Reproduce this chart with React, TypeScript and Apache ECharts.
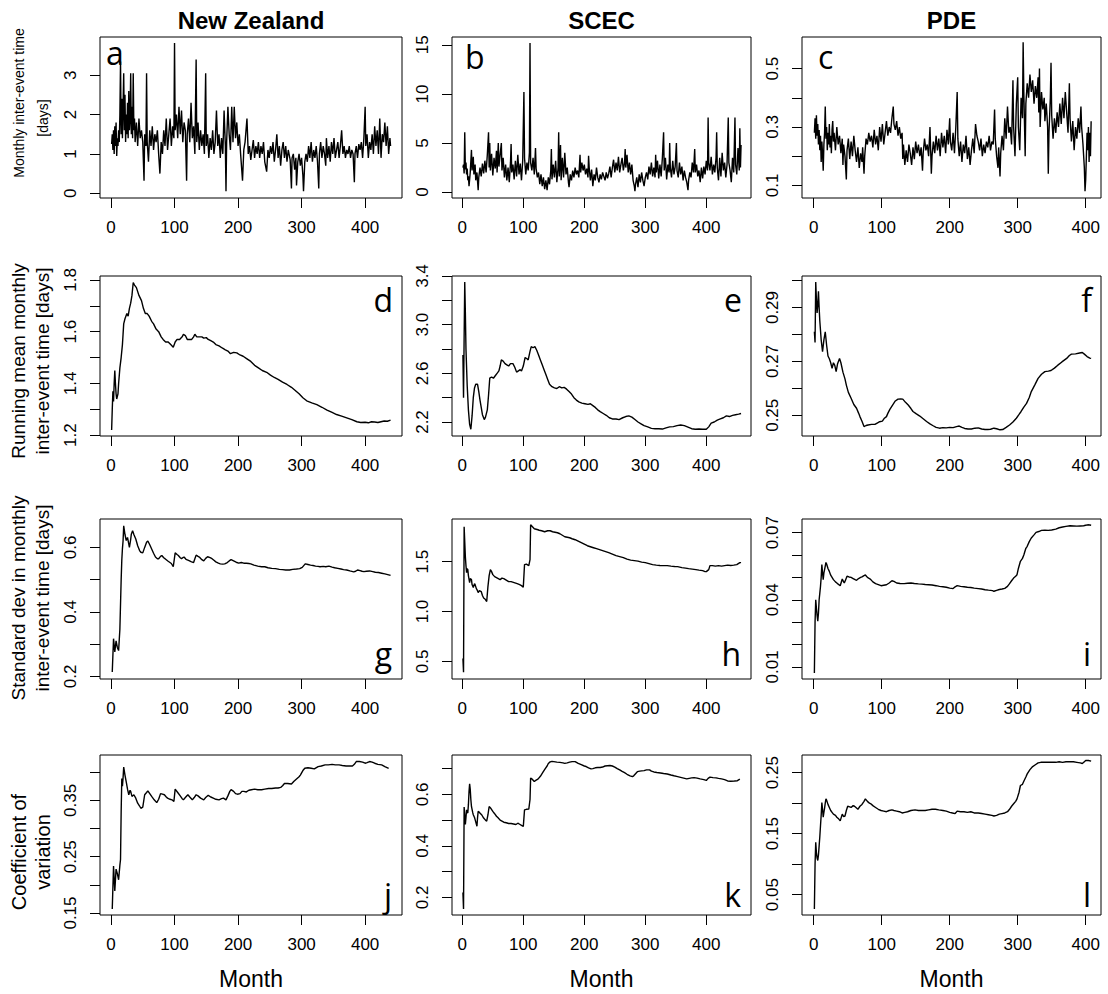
import React, { useEffect, useRef } from "react";
import * as echarts from "echarts";

// ---------- DATA (month, value) ----------
const NZ_MONTHLY: [number, number][] = [[1,1.25],[2,1.5],[3,1.1],[4,1.6],[5,1.0],[6,1.7],[7,1.2],[8,1.8],[9,0.95],[10,1.4],[11,1.2],[12,1.6],[13,1.3],[14,2.0],[15,3.35],[16,1.5],[17,2.4],[18,1.4],[19,2.2],[20,3.05],[21,1.6],[22,2.5],[23,1.3],[24,2.0],[25,1.5],[26,2.3],[27,1.4],[28,2.6],[29,1.6],[30,1.9],[31,3.05],[32,1.5],[33,2.2],[34,1.4],[35,3.05],[36,1.6],[37,1.9],[38,1.3],[40,1.8],[42,1.2],[44,1.9],[46,1.4],[48,1.6],[50,1.3],[52,0.32],[53,1.5],[55,1.2],[56,3.05],[57,1.3],[59,0.8],[61,1.6],[63,1.2],[65,1.7],[67,1.1],[69,1.5],[71,1.3],[73,1.6],[75,1.0],[77,0.5],[79,1.3],[81,1.0],[83,1.6],[85,1.2],[87,1.9],[89,1.1],[91,1.5],[93,1.9],[95,1.2],[97,1.7],[99,1.4],[100,3.82],[101,1.6],[103,2.0],[105,1.4],[107,2.2],[109,1.5],[111,2.1],[113,1.3],[115,1.8],[117,1.6],[119,0.32],[120,1.5],[122,1.9],[124,1.3],[126,2.3],[128,1.4],[130,1.7],[132,1.0],[134,3.4],[135,1.3],[137,1.8],[139,1.1],[141,1.6],[143,1.2],[145,1.5],[147,1.0],[149,3.05],[150,1.2],[152,1.5],[154,0.9],[156,1.4],[158,1.1],[160,1.6],[162,1.0],[164,1.3],[166,2.1],[168,1.2],[170,1.5],[172,0.9],[174,1.4],[176,1.0],[178,2.1],[180,1.2],[181,0.05],[182,1.3],[184,2.2],[186,1.5],[188,1.1],[190,2.2],[192,1.3],[194,2.2],[196,1.4],[198,1.8],[200,1.2],[202,1.5],[204,1.0],[207,0.32],[209,1.1],[211,1.3],[214,1.9],[216,1.0],[218,1.2],[220,0.85],[222,1.1],[224,1.35],[226,0.9],[228,1.2],[230,1.0],[232,1.3],[234,0.9],[236,1.2],[238,1.0],[240,1.3],[242,0.8],[245,0.55],[247,1.1],[249,0.9],[251,1.2],[253,1.0],[255,1.3],[257,0.8],[259,1.1],[261,1.5],[263,0.9],[265,1.2],[267,0.7],[269,1.1],[271,1.3],[273,0.9],[275,1.2],[277,0.8],[279,1.1],[282,0.85],[284,0.12],[285,0.9],[287,1.0],[289,0.6],[291,0.9],[292,0.2],[294,0.8],[296,1.0],[298,0.7],[300,0.9],[302,0.45],[303,0.05],[305,0.8],[307,1.0],[309,0.8],[311,1.2],[313,0.9],[315,1.3],[317,0.8],[319,1.1],[321,0.9],[323,1.2],[325,0.8],[327,0.12],[328,1.0],[330,1.3],[332,0.9],[334,1.2],[336,1.0],[338,0.7],[339,1.4],[341,0.9],[343,1.2],[345,0.8],[347,1.3],[349,1.0],[351,1.4],[353,0.9],[355,1.1],[357,1.3],[359,0.9],[361,1.2],[363,1.6],[365,1.0],[367,1.2],[369,0.9],[371,1.1],[373,1.0],[375,1.2],[377,0.9],[379,1.1],[381,1.0],[383,0.28],[384,1.0],[386,1.2],[388,0.9],[390,1.25],[392,1.1],[394,1.3],[396,0.9],[398,1.4],[400,2.2],[401,1.2],[403,1.5],[405,0.9],[407,1.3],[409,1.1],[411,1.5],[413,1.0],[415,1.7],[417,1.2],[419,1.6],[421,1.0],[423,1.9],[425,0.9],[427,1.5],[429,1.3],[431,1.8],[433,1.2],[435,1.7],[437,1.0],[439,1.4],[440,1.2]];

const SCEC_MONTHLY: [number, number][] = [[1,2.5],[2,2.8],[3,1.9],[4,6.1],[5,2.3],[6,3.0],[7,1.8],[8,2.4],[9,1.2],[10,1.6],[11,0.6],[12,1.3],[13,2.0],[15,4.3],[16,2.2],[18,3.6],[19,1.8],[21,2.8],[22,1.2],[24,2.0],[26,0.2],[27,1.5],[29,2.5],[31,1.6],[33,2.9],[35,1.9],[37,3.2],[39,2.0],[41,3.8],[43,6.1],[44,2.5],[45,5.0],[46,2.2],[48,3.9],[50,1.7],[52,3.5],[54,2.4],[56,4.2],[57,2.0],[59,5.0],[60,2.6],[62,3.8],[64,5.0],[65,2.2],[67,3.5],[69,1.5],[71,2.8],[73,1.2],[75,2.5],[77,1.0],[79,3.0],[80,4.9],[81,2.0],[83,2.8],[85,1.3],[87,3.2],[89,1.6],[91,3.8],[93,1.8],[95,2.9],[97,1.2],[99,3.2],[101,10.2],[102,3.5],[104,1.8],[106,3.0],[108,2.2],[110,4.0],[111,15.2],[112,3.0],[114,2.2],[116,3.5],[118,1.8],[120,4.5],[121,2.4],[123,1.5],[125,2.0],[127,0.8],[129,1.8],[131,0.6],[133,1.5],[135,0.3],[137,1.2],[139,0.2],[141,1.5],[143,0.8],[145,2.2],[146,4.4],[147,1.3],[149,2.8],[151,1.5],[153,3.2],[155,1.0],[157,2.5],[158,6.1],[159,1.6],[161,4.8],[162,1.2],[164,3.5],[166,1.5],[168,4.0],[170,1.8],[172,2.5],[174,1.0],[175,0.5],[177,1.8],[179,1.2],[181,2.2],[183,1.5],[185,2.5],[187,1.8],[189,2.2],[191,1.5],[193,3.8],[194,2.0],[196,3.0],[198,2.2],[200,2.8],[202,1.8],[204,2.4],[206,1.5],[207,3.7],[208,2.5],[210,1.2],[212,2.3],[214,0.6],[216,1.8],[218,1.2],[220,2.5],[222,1.5],[224,1.0],[226,1.8],[228,1.3],[230,2.0],[232,1.6],[234,1.2],[236,2.0],[238,1.4],[240,1.9],[242,2.6],[244,1.5],[246,2.5],[248,3.3],[250,2.0],[252,3.0],[254,2.2],[256,3.6],[258,2.0],[260,2.8],[262,3.5],[264,2.2],[266,3.0],[267,4.4],[268,2.5],[270,3.8],[272,2.0],[274,3.0],[276,1.8],[278,2.8],[280,1.2],[282,0.6],[283,0.1],[284,0.8],[286,1.5],[288,0.5],[290,1.8],[292,1.0],[294,2.0],[296,1.2],[298,0.6],[300,1.5],[302,2.0],[304,1.3],[306,2.6],[308,1.8],[310,3.0],[312,1.6],[314,2.5],[316,1.5],[317,3.8],[318,2.0],[320,3.2],[322,1.4],[324,2.8],[326,1.6],[328,3.5],[330,6.1],[331,2.2],[333,3.5],[335,1.3],[337,2.8],[339,2.0],[340,5.0],[341,2.5],[343,1.5],[345,3.2],[347,1.8],[349,2.6],[351,5.0],[352,2.2],[354,1.5],[356,3.0],[358,1.8],[360,2.6],[362,1.2],[364,2.2],[366,1.5],[368,1.0],[370,0.2],[371,1.2],[373,2.0],[375,1.5],[377,3.0],[379,2.0],[381,4.4],[382,2.0],[384,2.8],[386,1.6],[388,2.2],[390,1.0],[392,2.5],[394,1.4],[396,2.6],[398,1.8],[400,3.2],[402,2.2],[403,7.6],[404,3.0],[406,2.2],[408,3.6],[410,1.8],[412,2.8],[414,2.0],[416,3.5],[417,6.1],[418,2.5],[420,1.2],[422,3.5],[424,1.6],[426,4.0],[428,2.2],[430,3.0],[432,1.5],[434,2.8],[436,7.6],[437,3.0],[439,2.2],[441,1.0],[443,3.5],[445,2.0],[447,7.6],[448,2.8],[450,1.8],[452,4.5],[454,2.2],[455,6.5],[456,2.5],[457,4.8]];

const PDE_MONTHLY: [number, number][] = [[1,0.28],[2,0.33],[3,0.26],[4,0.34],[5,0.27],[6,0.31],[7,0.24],[8,0.29],[9,0.22],[10,0.27],[11,0.18],[12,0.25],[13,0.21],[14,0.15],[15,0.24],[16,0.28],[17,0.37],[18,0.26],[19,0.30],[20,0.22],[21,0.28],[22,0.24],[23,0.31],[24,0.23],[25,0.27],[26,0.21],[27,0.29],[28,0.32],[29,0.25],[30,0.28],[32,0.22],[34,0.30],[36,0.24],[38,0.27],[40,0.21],[42,0.26],[43,0.17],[44,0.24],[46,0.20],[48,0.12],[49,0.22],[51,0.26],[53,0.19],[55,0.25],[57,0.20],[59,0.27],[61,0.22],[63,0.18],[65,0.23],[67,0.16],[69,0.21],[71,0.18],[72,0.23],[74,0.14],[75,0.20],[77,0.26],[79,0.24],[81,0.28],[83,0.25],[85,0.27],[87,0.23],[89,0.29],[91,0.24],[93,0.27],[95,0.22],[97,0.30],[99,0.25],[101,0.31],[103,0.24],[105,0.28],[107,0.32],[109,0.27],[111,0.30],[113,0.28],[115,0.33],[117,0.37],[118,0.31],[120,0.29],[122,0.32],[124,0.27],[126,0.30],[128,0.26],[130,0.28],[131,0.19],[132,0.24],[134,0.17],[136,0.22],[138,0.18],[140,0.24],[142,0.21],[144,0.17],[146,0.23],[148,0.19],[150,0.25],[152,0.21],[154,0.24],[156,0.20],[158,0.23],[160,0.15],[161,0.21],[163,0.26],[165,0.22],[167,0.24],[169,0.20],[171,0.30],[172,0.22],[173,0.14],[174,0.20],[176,0.25],[178,0.21],[180,0.27],[182,0.22],[184,0.26],[186,0.20],[188,0.28],[190,0.23],[192,0.27],[194,0.21],[196,0.29],[198,0.24],[200,0.33],[201,0.25],[203,0.22],[205,0.28],[207,0.21],[209,0.30],[211,0.42],[212,0.26],[214,0.20],[216,0.25],[218,0.18],[220,0.24],[222,0.21],[224,0.27],[226,0.19],[228,0.23],[230,0.17],[232,0.22],[234,0.26],[236,0.21],[238,0.31],[240,0.27],[242,0.25],[244,0.22],[246,0.26],[248,0.20],[250,0.24],[252,0.21],[254,0.25],[256,0.23],[258,0.27],[260,0.22],[262,0.25],[264,0.24],[266,0.36],[267,0.26],[269,0.20],[271,0.16],[272,0.23],[274,0.13],[275,0.21],[277,0.27],[279,0.22],[281,0.33],[283,0.26],[285,0.37],[287,0.28],[289,0.30],[291,0.24],[293,0.46],[294,0.30],[296,0.20],[298,0.38],[300,0.47],[301,0.30],[303,0.22],[305,0.40],[307,0.33],[308,0.59],[309,0.42],[311,0.20],[312,0.38],[314,0.45],[316,0.40],[318,0.48],[320,0.42],[322,0.46],[324,0.38],[326,0.44],[328,0.40],[330,0.47],[331,0.35],[332,0.50],[333,0.30],[335,0.42],[337,0.36],[339,0.40],[340,0.32],[342,0.38],[344,0.30],[345,0.14],[346,0.28],[348,0.40],[349,0.52],[350,0.34],[352,0.26],[354,0.33],[356,0.28],[358,0.35],[360,0.30],[362,0.38],[364,0.31],[366,0.40],[368,0.33],[370,0.42],[372,0.35],[374,0.28],[376,0.45],[377,0.33],[379,0.25],[381,0.32],[383,0.22],[385,0.30],[387,0.26],[389,0.33],[391,0.28],[393,0.37],[394,0.30],[396,0.24],[398,0.16],[399,0.08],[400,0.12],[401,0.20],[402,0.28],[403,0.22],[404,0.30],[405,0.18],[406,0.28],[407,0.20],[408,0.32]];

const NZ_MEAN: [number, number][] = [[1,1.22],[2,1.30],[3,1.37],[4,1.33],[5,1.40],[6,1.45],[7,1.40],[8,1.36],[9,1.34],[10,1.34],[11,1.36],[12,1.40],[14,1.46],[16,1.50],[18,1.55],[20,1.63],[22,1.65],[25,1.67],[27,1.66],[29,1.69],[31,1.71],[33,1.74],[35,1.79],[37,1.78],[40,1.77],[44,1.74],[48,1.72],[51,1.69],[54,1.67],[57,1.67],[60,1.66],[64,1.64],[67,1.63],[71,1.61],[75,1.60],[79,1.58],[82,1.57],[86,1.56],[90,1.56],[94,1.55],[98,1.54],[101,1.56],[104,1.57],[108,1.57],[112,1.58],[114,1.59],[117,1.585],[120,1.57],[123,1.57],[127,1.57],[130,1.58],[132,1.59],[135,1.58],[139,1.58],[143,1.58],[146,1.575],[150,1.577],[153,1.57],[157,1.565],[161,1.56],[165,1.55],[170,1.545],[175,1.537],[180,1.53],[184,1.525],[188,1.515],[193,1.52],[198,1.518],[203,1.51],[208,1.505],[214,1.495],[220,1.485],[226,1.47],[232,1.46],[238,1.45],[245,1.443],[251,1.432],[257,1.423],[263,1.416],[270,1.405],[277,1.396],[284,1.385],[290,1.373],[296,1.36],[302,1.345],[308,1.333],[316,1.325],[324,1.318],[332,1.308],[340,1.297],[348,1.288],[355,1.28],[363,1.274],[371,1.267],[379,1.26],[387,1.252],[393,1.249],[400,1.25],[405,1.248],[410,1.252],[415,1.251],[420,1.249],[425,1.252],[430,1.255],[435,1.254],[440,1.258]];

const SCEC_MEAN: [number, number][] = [[1,2.75],[2,2.40],[3,2.9],[4,3.35],[5,3.1],[6,2.8],[8,2.5],[10,2.3],[12,2.18],[14,2.14],[16,2.25],[18,2.40],[20,2.48],[22,2.51],[25,2.51],[27,2.45],[29,2.38],[31,2.32],[33,2.26],[36,2.22],[38,2.24],[41,2.3],[43,2.42],[45,2.56],[48,2.57],[51,2.56],[54,2.58],[57,2.60],[60,2.62],[62,2.66],[64,2.71],[67,2.70],[70,2.68],[73,2.67],[76,2.66],[79,2.68],[83,2.68],[86,2.65],[89,2.61],[92,2.62],[95,2.63],[97,2.62],[100,2.66],[103,2.73],[106,2.72],[108,2.71],[111,2.78],[113,2.82],[116,2.81],[119,2.82],[122,2.79],[125,2.75],[128,2.71],[131,2.67],[134,2.63],[137,2.59],[140,2.55],[143,2.51],[147,2.49],[151,2.48],[155,2.475],[159,2.49],[163,2.48],[167,2.485],[171,2.47],[175,2.45],[179,2.43],[183,2.40],[187,2.38],[191,2.365],[196,2.355],[201,2.35],[206,2.345],[210,2.35],[214,2.335],[218,2.32],[222,2.30],[226,2.285],[231,2.27],[236,2.255],[241,2.235],[246,2.225],[252,2.225],[257,2.22],[263,2.235],[268,2.245],[273,2.25],[278,2.24],[283,2.22],[288,2.2],[293,2.185],[298,2.17],[304,2.16],[310,2.148],[316,2.145],[322,2.145],[328,2.142],[334,2.152],[340,2.16],[346,2.162],[352,2.17],[358,2.175],[364,2.17],[370,2.158],[376,2.145],[382,2.14],[388,2.143],[394,2.14],[400,2.14],[404,2.16],[408,2.19],[413,2.2],[418,2.215],[423,2.225],[428,2.235],[433,2.25],[438,2.245],[443,2.255],[448,2.26],[453,2.265],[457,2.27]];

const PDE_MEAN: [number, number][] = [[1,0.281],[2,0.277],[3,0.2995],[4,0.293],[5,0.288],[6,0.291],[7,0.296],[8,0.290],[9,0.285],[11,0.278],[13,0.2736],[15,0.278],[17,0.281],[19,0.276],[21,0.272],[23,0.271],[25,0.2695],[27,0.2674],[29,0.2695],[31,0.2685],[33,0.2662],[35,0.269],[38,0.2711],[40,0.2695],[43,0.266],[46,0.2635],[48,0.2612],[51,0.2585],[55,0.2563],[59,0.254],[63,0.2526],[66,0.2508],[68,0.2495],[71,0.2478],[74,0.2458],[77,0.2462],[80,0.2464],[85,0.2466],[90,0.2466],[94,0.2472],[97,0.2476],[101,0.2478],[104,0.2489],[107,0.2495],[109,0.2507],[112,0.2522],[116,0.2538],[120,0.2553],[124,0.256],[128,0.2561],[131,0.256],[135,0.2548],[139,0.2538],[143,0.2525],[146,0.2514],[151,0.2505],[156,0.2497],[161,0.2487],[166,0.2477],[171,0.2468],[175,0.2462],[180,0.2455],[185,0.2452],[190,0.2454],[195,0.2453],[200,0.2455],[205,0.2454],[210,0.2458],[214,0.246],[218,0.2455],[222,0.2451],[227,0.2449],[232,0.2449],[237,0.2452],[242,0.2453],[247,0.2449],[252,0.2447],[256,0.2447],[260,0.2448],[265,0.2452],[269,0.245],[274,0.2446],[278,0.2447],[283,0.2455],[288,0.2464],[293,0.2475],[298,0.2489],[302,0.2503],[305,0.2514],[309,0.253],[313,0.2544],[317,0.2566],[320,0.2588],[325,0.2612],[330,0.2637],[335,0.2652],[340,0.2662],[345,0.2664],[349,0.2666],[354,0.2675],[359,0.2686],[365,0.2698],[372,0.2711],[376,0.2722],[379,0.2727],[385,0.2728],[391,0.2731],[395,0.2733],[398,0.2727],[402,0.2718],[406,0.2712],[408,0.2711]];

const NZ_SD: [number, number][] = [[2,0.214],[4,0.317],[6,0.276],[8,0.31],[10,0.29],[12,0.28],[14,0.347],[16,0.50],[17,0.56],[18,0.596],[19,0.62],[20,0.667],[22,0.64],[24,0.621],[26,0.631],[28,0.61],[29,0.60],[31,0.625],[32,0.641],[34,0.652],[36,0.64],[39,0.626],[42,0.605],[45,0.59],[47,0.585],[50,0.583],[53,0.6],[56,0.616],[58,0.62],[61,0.608],[64,0.595],[67,0.582],[70,0.57],[73,0.565],[75,0.565],[78,0.572],[80,0.575],[83,0.568],[85,0.565],[90,0.557],[95,0.55],[98,0.54],[101,0.583],[104,0.578],[106,0.575],[109,0.568],[111,0.565],[113,0.568],[115,0.57],[118,0.563],[122,0.56],[126,0.556],[130,0.553],[132,0.565],[134,0.576],[137,0.572],[139,0.57],[143,0.562],[146,0.558],[149,0.566],[152,0.571],[156,0.568],[159,0.565],[162,0.56],[165,0.555],[169,0.551],[172,0.549],[176,0.548],[179,0.549],[183,0.553],[186,0.558],[189,0.562],[193,0.558],[197,0.554],[201,0.551],[205,0.553],[209,0.551],[213,0.551],[217,0.55],[220,0.549],[225,0.545],[231,0.542],[237,0.54],[242,0.54],[247,0.537],[253,0.535],[259,0.534],[265,0.532],[270,0.531],[275,0.53],[281,0.53],[286,0.532],[292,0.533],[297,0.534],[301,0.538],[304,0.545],[306,0.549],[310,0.547],[314,0.545],[318,0.544],[322,0.542],[326,0.541],[329,0.54],[334,0.541],[338,0.54],[343,0.542],[348,0.539],[352,0.537],[357,0.535],[362,0.533],[366,0.531],[371,0.53],[376,0.527],[382,0.524],[385,0.526],[388,0.53],[392,0.528],[395,0.526],[398,0.525],[402,0.526],[407,0.527],[412,0.525],[416,0.523],[421,0.522],[426,0.52],[431,0.518],[437,0.515],[440,0.513]];

const SCEC_SD: [number, number][] = [[1,0.53],[2,0.39],[3,1.85],[4,1.7],[5,1.55],[6,1.46],[7,1.39],[8,1.43],[9,1.42],[10,1.36],[12,1.29],[13,1.33],[15,1.32],[16,1.27],[18,1.24],[20,1.28],[21,1.27],[23,1.23],[24,1.22],[26,1.19],[28,1.21],[31,1.20],[33,1.16],[35,1.135],[38,1.12],[40,1.10],[42,1.25],[44,1.36],[46,1.42],[48,1.40],[50,1.37],[53,1.35],[56,1.34],[59,1.33],[62,1.32],[65,1.335],[68,1.33],[72,1.315],[76,1.30],[80,1.30],[85,1.29],[90,1.28],[94,1.27],[97,1.26],[100,1.245],[102,1.47],[105,1.475],[109,1.46],[111,1.52],[112,1.87],[115,1.85],[118,1.83],[121,1.825],[124,1.82],[126,1.815],[130,1.81],[135,1.80],[140,1.81],[144,1.81],[148,1.80],[152,1.795],[156,1.79],[160,1.78],[164,1.765],[168,1.75],[172,1.745],[176,1.74],[180,1.73],[185,1.72],[190,1.705],[195,1.69],[200,1.675],[205,1.66],[210,1.65],[215,1.64],[220,1.63],[225,1.62],[230,1.61],[235,1.60],[240,1.59],[246,1.575],[252,1.56],[258,1.55],[264,1.54],[270,1.525],[276,1.515],[282,1.51],[288,1.505],[294,1.495],[300,1.49],[306,1.48],[312,1.47],[318,1.465],[324,1.462],[330,1.46],[336,1.46],[342,1.455],[348,1.452],[353,1.45],[360,1.44],[366,1.435],[371,1.43],[377,1.425],[383,1.42],[388,1.415],[394,1.41],[398,1.40],[400,1.40],[402,1.41],[404,1.42],[406,1.46],[410,1.46],[415,1.455],[420,1.46],[425,1.455],[430,1.46],[435,1.465],[440,1.462],[445,1.465],[450,1.47],[455,1.49],[457,1.49]];

const PDE_SD: [number, number][] = [[1,0.0073],[2,0.03],[3,0.04],[4,0.0363],[5,0.033],[6,0.0304],[7,0.034],[8,0.04],[9,0.043],[10,0.046],[11,0.05],[12,0.0557],[13,0.052],[14,0.049],[15,0.052],[16,0.0535],[17,0.055],[18,0.0567],[19,0.056],[21,0.054],[23,0.0527],[25,0.051],[27,0.05],[29,0.049],[32,0.048],[34,0.0475],[36,0.047],[39,0.0463],[42,0.0493],[44,0.048],[45,0.0475],[47,0.049],[49,0.0505],[52,0.0502],[55,0.05],[58,0.0495],[61,0.049],[63,0.0487],[66,0.0495],[69,0.05],[71,0.0502],[74,0.0508],[76,0.0511],[79,0.05],[82,0.0495],[84,0.049],[87,0.048],[91,0.0472],[95,0.0468],[99,0.0463],[103,0.0465],[107,0.0467],[111,0.0475],[115,0.0485],[118,0.0482],[122,0.0475],[127,0.0473],[133,0.0472],[138,0.0474],[143,0.0475],[148,0.0473],[154,0.0471],[159,0.047],[164,0.0468],[169,0.0467],[174,0.0466],[180,0.0463],[185,0.046],[190,0.0458],[195,0.0456],[200,0.0452],[205,0.045],[208,0.0458],[211,0.0463],[216,0.046],[221,0.0458],[226,0.0456],[231,0.0455],[236,0.0452],[242,0.045],[247,0.0448],[252,0.0445],[257,0.0443],[263,0.0441],[265,0.0438],[269,0.0442],[273,0.0446],[277,0.0448],[281,0.0451],[285,0.046],[288,0.0472],[291,0.0485],[294,0.0497],[297,0.0505],[299,0.0512],[301,0.054],[304,0.0572],[307,0.0585],[309,0.06],[312,0.063],[314,0.0639],[317,0.066],[320,0.0676],[324,0.069],[327,0.0701],[331,0.0705],[335,0.071],[340,0.0711],[345,0.071],[350,0.0712],[356,0.0716],[361,0.0722],[366,0.0725],[371,0.0728],[377,0.0731],[382,0.073],[387,0.0729],[392,0.073],[397,0.0731],[400,0.0733],[403,0.0735],[406,0.0734],[408,0.0733]];

const NZ_CV: [number, number][] = [[2,0.157],[4,0.2335],[6,0.189],[8,0.228],[10,0.22],[12,0.209],[14,0.235],[15,0.245],[16,0.33],[17,0.389],[18,0.375],[19,0.39],[20,0.409],[22,0.395],[24,0.383],[26,0.37],[28,0.36],[30,0.368],[31,0.366],[33,0.357],[36,0.36],[39,0.354],[42,0.345],[45,0.34],[47,0.336],[50,0.338],[53,0.36],[56,0.364],[58,0.367],[61,0.362],[64,0.357],[68,0.351],[72,0.346],[75,0.352],[78,0.362],[81,0.361],[84,0.36],[87,0.356],[89,0.354],[93,0.352],[96,0.351],[99,0.348],[101,0.37],[105,0.364],[109,0.358],[112,0.353],[114,0.351],[117,0.355],[121,0.36],[124,0.356],[128,0.351],[131,0.355],[134,0.36],[137,0.358],[141,0.354],[146,0.351],[149,0.355],[153,0.359],[157,0.356],[161,0.354],[165,0.352],[170,0.351],[174,0.353],[177,0.354],[181,0.351],[184,0.358],[187,0.366],[189,0.369],[193,0.366],[196,0.362],[199,0.361],[203,0.362],[206,0.366],[209,0.366],[213,0.365],[217,0.368],[221,0.369],[226,0.37],[231,0.369],[237,0.369],[242,0.37],[248,0.371],[253,0.371],[259,0.372],[263,0.372],[267,0.373],[270,0.376],[273,0.38],[278,0.38],[284,0.379],[288,0.384],[292,0.388],[296,0.392],[298,0.395],[302,0.403],[305,0.407],[310,0.408],[315,0.407],[320,0.406],[326,0.41],[331,0.411],[337,0.413],[342,0.413],[348,0.414],[353,0.413],[359,0.413],[364,0.412],[370,0.411],[375,0.411],[380,0.411],[383,0.414],[386,0.419],[391,0.419],[396,0.418],[400,0.416],[403,0.417],[407,0.419],[411,0.418],[415,0.416],[420,0.414],[426,0.413],[431,0.41],[437,0.407]];

const SCEC_CV: [number, number][] = [[1,0.219],[2,0.155],[3,0.551],[4,0.52],[5,0.483],[6,0.51],[7,0.54],[8,0.53],[9,0.528],[10,0.56],[11,0.61],[12,0.641],[13,0.62],[14,0.58],[15,0.553],[17,0.53],[18,0.521],[20,0.51],[21,0.502],[23,0.485],[24,0.476],[25,0.51],[26,0.534],[28,0.53],[30,0.525],[32,0.52],[35,0.508],[38,0.5],[40,0.496],[42,0.52],[44,0.553],[47,0.545],[50,0.534],[53,0.525],[56,0.515],[59,0.508],[62,0.5],[65,0.496],[68,0.492],[72,0.49],[76,0.487],[80,0.487],[84,0.485],[88,0.483],[91,0.488],[94,0.484],[97,0.48],[100,0.476],[102,0.54],[105,0.542],[109,0.543],[111,0.58],[112,0.663],[115,0.658],[118,0.65],[121,0.655],[124,0.659],[128,0.67],[132,0.685],[136,0.7],[139,0.71],[141,0.72],[144,0.726],[147,0.728],[150,0.727],[155,0.725],[160,0.724],[165,0.722],[168,0.72],[172,0.722],[176,0.725],[180,0.727],[185,0.727],[190,0.72],[195,0.715],[200,0.71],[203,0.708],[207,0.703],[211,0.699],[214,0.7],[218,0.703],[222,0.704],[226,0.704],[230,0.706],[234,0.71],[238,0.711],[242,0.712],[246,0.71],[250,0.706],[254,0.7],[258,0.695],[262,0.689],[266,0.684],[270,0.678],[275,0.672],[279,0.669],[281,0.672],[284,0.68],[287,0.688],[291,0.69],[294,0.691],[298,0.692],[302,0.695],[307,0.695],[310,0.69],[314,0.687],[319,0.685],[325,0.683],[330,0.681],[336,0.679],[342,0.675],[347,0.672],[353,0.669],[358,0.666],[363,0.663],[368,0.66],[372,0.662],[376,0.664],[380,0.665],[385,0.663],[390,0.66],[396,0.657],[400,0.654],[403,0.662],[406,0.667],[411,0.665],[416,0.664],[420,0.662],[425,0.66],[430,0.657],[435,0.652],[440,0.651],[446,0.652],[451,0.653],[455,0.659]];

const PDE_CV: [number, number][] = [[1,0.0265],[2,0.10],[3,0.136],[4,0.119],[5,0.11],[6,0.106],[7,0.115],[8,0.13],[9,0.145],[10,0.163],[11,0.18],[12,0.201],[13,0.19],[14,0.177],[15,0.185],[16,0.192],[17,0.2],[18,0.207],[19,0.205],[21,0.198],[23,0.193],[25,0.188],[27,0.185],[29,0.182],[32,0.18],[34,0.177],[37,0.174],[39,0.171],[42,0.182],[44,0.178],[46,0.179],[48,0.188],[50,0.195],[53,0.194],[55,0.193],[58,0.196],[60,0.195],[63,0.192],[65,0.19],[68,0.195],[71,0.198],[74,0.203],[76,0.207],[79,0.203],[82,0.2],[84,0.199],[87,0.196],[91,0.193],[95,0.19],[99,0.188],[103,0.187],[107,0.186],[111,0.188],[115,0.189],[118,0.188],[122,0.187],[126,0.186],[130,0.184],[134,0.185],[138,0.186],[143,0.188],[149,0.189],[154,0.188],[159,0.188],[164,0.188],[169,0.189],[174,0.19],[179,0.19],[184,0.189],[190,0.188],[195,0.187],[200,0.185],[204,0.184],[208,0.183],[211,0.187],[216,0.186],[221,0.186],[226,0.185],[231,0.186],[236,0.184],[242,0.184],[247,0.183],[252,0.182],[257,0.181],[262,0.18],[265,0.179],[269,0.18],[273,0.182],[277,0.183],[281,0.184],[285,0.186],[288,0.19],[291,0.195],[294,0.199],[297,0.203],[299,0.207],[302,0.218],[304,0.229],[307,0.231],[309,0.236],[312,0.243],[314,0.248],[318,0.255],[322,0.26],[326,0.263],[330,0.266],[334,0.267],[337,0.267],[341,0.267],[345,0.267],[350,0.267],[356,0.267],[361,0.268],[366,0.267],[371,0.268],[377,0.268],[382,0.268],[387,0.267],[392,0.266],[395,0.265],[398,0.268],[400,0.27],[404,0.27],[408,0.269]];

// ---------- AXIS TICKS / LABELS ----------
const X_TICKS = [0, 100, 200, 300, 400];
const COLUMN_TITLES = ["New Zealand", "SCEC", "PDE"];
const ROW_LABELS = [
  ["Monthly inter-event time", "[days]"],
  ["Running mean monthly", "inter-event time [days]"],
  ["Standard dev in monthly", "inter-event time [days]"],
  ["Coefficient of", "variation"],
];
const PANEL_LETTERS = ["a", "b", "c", "d", "e", "f", "g", "h", "i", "j", "k", "l"];

const Y_TICKS_A = [0, 1, 2, 3];
const Y_TICKS_B = [0, 5, 10, 15];
const Y_TICKS_C = [0.1, 0.2, 0.3, 0.4, 0.5];
const Y_LABELS_C = [0.1, 0.3, 0.5];
const Y_TICKS_D = [1.2, 1.3, 1.4, 1.5, 1.6, 1.7, 1.8];
const Y_LABELS_D = [1.2, 1.4, 1.6, 1.8];
const Y_TICKS_E = [2.2, 2.4, 2.6, 2.8, 3.0, 3.2, 3.4];
const Y_LABELS_E = [2.2, 2.6, 3.0, 3.4];
const Y_TICKS_F = [0.25, 0.26, 0.27, 0.28, 0.29, 0.3];
const Y_LABELS_F = [0.25, 0.27, 0.29];
const Y_TICKS_G = [0.2, 0.3, 0.4, 0.5, 0.6];
const Y_LABELS_G = [0.2, 0.4, 0.6];
const Y_TICKS_H = [0.5, 1.0, 1.5];
const Y_TICKS_I = [0.01, 0.02, 0.03, 0.04, 0.05, 0.06, 0.07];
const Y_LABELS_I = [0.01, 0.04, 0.07];
const Y_TICKS_J = [0.15, 0.2, 0.25, 0.3, 0.35, 0.4];
const Y_LABELS_J = [0.15, 0.25, 0.35];
const Y_TICKS_K = [0.2, 0.3, 0.4, 0.5, 0.6, 0.7];
const Y_LABELS_K = [0.2, 0.4, 0.6];
const Y_TICKS_L = [0.05, 0.1, 0.15, 0.2, 0.25];
const Y_LABELS_L = [0.05, 0.15, 0.25];

// ---------- LAYOUT ----------
const COLS = [[100, 402], [452, 751], [802, 1101]];
const ROWS = [[37, 198], [276, 436], [519, 679], [755, 915]];
const X_RANGE = [[-17.3, 458], [-16.9, 473.3], [-17.2, 422.5]];

type Panel = {
  data: [number, number][];
  ymin: number; ymax: number;
  ticks: number[]; labels: number[]; dec: number;
};

const PANELS: Panel[] = [
  { data: NZ_MONTHLY, ymin: -0.12, ymax: 3.97, ticks: Y_TICKS_A, labels: Y_TICKS_A, dec: 0 },
  { data: SCEC_MONTHLY, ymin: -0.6, ymax: 15.8, ticks: Y_TICKS_B, labels: Y_TICKS_B, dec: 0 },
  { data: PDE_MONTHLY, ymin: 0.0566, ymax: 0.6084, ticks: Y_TICKS_C, labels: Y_LABELS_C, dec: 1 },
  { data: NZ_MEAN, ymin: 1.197, ymax: 1.815, ticks: Y_TICKS_D, labels: Y_LABELS_D, dec: 1 },
  { data: SCEC_MEAN, ymin: 2.085, ymax: 3.4, ticks: Y_TICKS_E, labels: Y_LABELS_E, dec: 1 },
  { data: PDE_MEAN, ymin: 0.2423, ymax: 0.3017, ticks: Y_TICKS_F, labels: Y_LABELS_F, dec: 2 },
  { data: NZ_SD, ymin: 0.192, ymax: 0.688, ticks: Y_TICKS_G, labels: Y_LABELS_G, dec: 1 },
  { data: SCEC_SD, ymin: 0.323, ymax: 1.928, ticks: Y_TICKS_H, labels: Y_TICKS_H, dec: 1 },
  { data: PDE_SD, ymin: 0.0046, ymax: 0.0761, ticks: Y_TICKS_I, labels: Y_LABELS_I, dec: 2 },
  { data: NZ_CV, ymin: 0.1465, ymax: 0.4306, ticks: Y_TICKS_J, labels: Y_LABELS_J, dec: 2 },
  { data: SCEC_CV, ymin: 0.132, ymax: 0.7527, ticks: Y_TICKS_K, labels: Y_LABELS_K, dec: 1 },
  { data: PDE_CV, ymin: 0.0167, ymax: 0.279, ticks: Y_TICKS_L, labels: Y_LABELS_L, dec: 2 },
];

const FONT = '"Liberation Sans", Arial, Helvetica, sans-serif';
const LETTER_FONT = '"Open Sans", "Noto Sans", sans-serif';

export default function App() {
  const ref = useRef<HTMLDivElement>(null);

  useEffect(() => {
    if (!ref.current) return;
    const chart = echarts.init(ref.current, undefined, { renderer: "svg" });

    const grids: any[] = [];
    const xAxes: any[] = [];
    const yAxes: any[] = [];
    const series: any[] = [];
    const graphics: any[] = [];

    PANELS.forEach((p, i) => {
      const r = Math.floor(i / 3);
      const c = i % 3;
      const [l, rr] = COLS[c];
      const [t, b] = ROWS[r];
      grids.push({
        left: l, top: t, width: rr - l, height: b - t,
        show: true, borderColor: "#000", borderWidth: 1,
        backgroundColor: "transparent",
        containLabel: false, outerBoundsMode: "none",
      });
      xAxes.push({
        type: "value", gridIndex: i, position: "bottom",
        min: X_RANGE[c][0], max: X_RANGE[c][1],
        axisLine: { show: false, onZero: false },
        splitLine: { show: false },
        axisTick: { show: true, inside: false, length: 10, customValues: X_TICKS, lineStyle: { color: "#000", width: 1 } },
        axisLabel: { show: true, customValues: X_TICKS, margin: 21, color: "#000", fontSize: 17, fontFamily: FONT },
      });
      yAxes.push({
        type: "value", gridIndex: i, position: "left",
        min: p.ymin, max: p.ymax,
        axisLine: { show: false, onZero: false },
        splitLine: { show: false },
        axisTick: { show: true, inside: false, length: 10, customValues: p.ticks, lineStyle: { color: "#000", width: 1 } },
        axisLabel: {
          show: true, customValues: p.labels, rotate: 90, margin: 21,
          color: "#000", fontSize: 17, fontFamily: FONT,
          formatter: (v: number) => v.toFixed(p.dec),
        },
      });
      series.push({
        type: "line", xAxisIndex: i, yAxisIndex: i,
        data: p.data, showSymbol: false, symbol: "none",
        lineStyle: { color: "#000", width: 1.4 },
        clip: true, silent: true,
      });

      // panel letter
      let lx = 0, ly = 0, align = "left";
      if (r === 0) {
        lx = l + (c === 0 ? 6 : c === 1 ? 13 : 16);
        ly = (c === 0 ? 63 : 67) - 11;
        align = "left";
      } else if (r === 1) {
        lx = rr - 9; ly = 310 - 11; align = "right";
      } else if (r === 2) {
        lx = rr - 10; ly = 664 - 11; align = "right";
      } else {
        lx = rr - 10; ly = 905 - 11; align = "right";
      }
      graphics.push({
        type: "text", x: lx, y: ly, silent: true,
        style: { text: PANEL_LETTERS[i], fontSize: 32, fontFamily: LETTER_FONT, fill: "#000", align, verticalAlign: "middle" },
      });
    });

    COLUMN_TITLES.forEach((title, c) => {
      const cx = (COLS[c][0] + COLS[c][1]) / 2;
      graphics.push({
        type: "text", x: cx, y: 20, silent: true,
        style: { text: title, fontSize: 24, fontWeight: "bold", fontFamily: FONT, fill: "#000", align: "center", verticalAlign: "middle" },
      });
      graphics.push({
        type: "text", x: cx, y: 979, silent: true,
        style: { text: "Month", fontSize: 23, fontFamily: FONT, fill: "#000", align: "center", verticalAlign: "middle" },
      });
    });

    const rowLabelCenters = [[103, 118], [361, 361], [598, 598], [852, 852]];
    const rowLabelSizes = [14, 19, 19, 20];
    ROW_LABELS.forEach((lines, r) => {
      lines.forEach((txt, k) => {
        graphics.push({
          type: "text", x: k === 0 ? 18.5 : 42.5, y: rowLabelCenters[r][k], rotation: Math.PI / 2, silent: true,
          style: { text: txt, fontSize: rowLabelSizes[r], fontFamily: FONT, fill: "#000", align: "center", verticalAlign: "middle" },
        });
      });
    });

    chart.setOption({
      animation: false,
      backgroundColor: "#fff",
      grid: grids,
      xAxis: xAxes,
      yAxis: yAxes,
      series,
      graphic: graphics,
    });

    return () => chart.dispose();
  }, []);

  return (
    <div
      ref={ref}
      style={{ position: "fixed", left: 0, top: 0, width: 1108, height: 994, background: "#fff" }}
    />
  );
}
